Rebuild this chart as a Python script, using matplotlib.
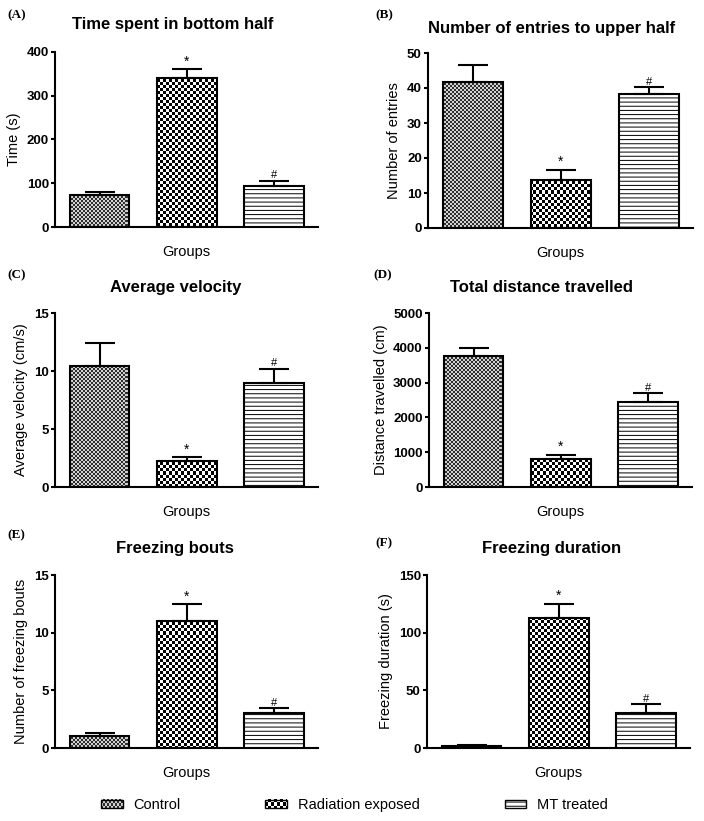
import matplotlib.pyplot as plt
import numpy as np
from matplotlib.patches import Rectangle
from matplotlib.legend_handler import HandlerBase
from matplotlib.image import BboxImage
from matplotlib.transforms import Bbox, TransformedBbox

plt.rcParams['font.family'] = ['Liberation Sans', 'DejaVu Sans']
plt.rcParams['hatch.linewidth'] = 0.7

# data (mean, upper error)
groups = ['Control', 'Radiation exposed', 'MT treated']
sig_marks = ['', '*', '#']

time_bottom = [73, 340, 93]
time_bottom_err = [7, 20, 12]
entries_upper = [41.6, 13.8, 38.3]
entries_upper_err = [4.9, 2.9, 1.9]
avg_velocity = [10.45, 2.25, 8.93]
avg_velocity_err = [2.0, 0.3, 1.24]
distance = [3750, 806, 2447]
distance_err = [235, 115, 240]
freeze_bouts = [1.04, 11.05, 3.05]
freeze_bouts_err = [0.29, 1.42, 0.38]
freeze_dur = [1.7, 112.5, 30.5]
freeze_dur_err = [1.0, 12.5, 7.3]

titles = ['Time spent in bottom half', 'Number of entries to upper half',
          'Average velocity', 'Total distance travelled',
          'Freezing bouts', 'Freezing duration']
letters = ['(A)', '(B)', '(C)', '(D)', '(E)', '(F)']
ylabels = ['Time (s)', 'Number of entries', 'Average velocity (cm/s)',
           'Distance travelled (cm)', 'Number of freezing bouts',
           'Freezing duration (s)']
yticks = [[0, 100, 200, 300, 400], [0, 10, 20, 30, 40, 50], [0, 5, 10, 15],
          [0, 1000, 2000, 3000, 4000, 5000], [0, 5, 10, 15], [0, 50, 100, 150]]
values = [time_bottom, entries_upper, avg_velocity, distance, freeze_bouts, freeze_dur]
errors = [time_bottom_err, entries_upper_err, avg_velocity_err, distance_err,
          freeze_bouts_err, freeze_dur_err]

W, H = 704, 821
fig = plt.figure(figsize=(W / 100, H / 100), dpi=100)

# axes boxes in pixels: left, top, right, bottom
boxes = [(55, 52, 318, 227), (428, 53, 693, 228),
         (55, 313, 318, 487), (429, 313, 692, 487),
         (55, 575, 318, 748), (427, 575, 690, 748)]
title_pos = [(173, 25), (552, 28), (176, 287), (542, 287), (175, 548), (552, 548)]
letter_pos = [(7, 15), (375, 15), (7, 275), (373, 275), (7, 535), (375, 543)]


def checker(h, w, cell, dark, light):
    yy, xx = np.mgrid[0:h, 0:w]
    m = ((yy // cell + xx // cell) % 2).astype(bool)
    d = np.array(dark, float)
    l = np.array(light, float)
    return np.where(m[..., None], d, l)


def control_tex(h, w):
    return checker(h, w, 2, (0.18, 0.18, 0.18), (0.82, 0.82, 0.82))


def radiation_tex(h, w):
    return checker(h, w, 3, (0, 0, 0), (1, 1, 1))


tex_funcs = [control_tex, radiation_tex, None]
mark_sizes = [10, 10, 8]
x = np.arange(3)
xlim = (-0.515, 2.505)
legend_bars = None

for k in range(6):
    l, t, r, b = boxes[k]
    ax = fig.add_axes([l / W, 1 - b / H, (r - l) / W, (b - t) / H])
    ylim = (yticks[k][0], yticks[k][-1])
    bars = ax.bar(x, values[k], width=0.68, facecolor='none', edgecolor='black',
                  linewidth=1.5, zorder=3)
    for i, patch in enumerate(bars):
        if tex_funcs[i] is not None:
            img = tex_funcs[i](b - t, r - l)
            im = ax.imshow(img, extent=(xlim[0], xlim[1], ylim[0], ylim[1]),
                           aspect='auto', interpolation='nearest', zorder=2)
            im.set_clip_path(patch)
        else:
            patch.set_facecolor('white')
            patch.set_hatch('----')
    ax.errorbar(x, values[k], yerr=[np.zeros(3), errors[k]], fmt='none',
                ecolor='black', elinewidth=1.5, capsize=10.5, capthick=1.5, zorder=4)
    for i in range(3):
        if sig_marks[i]:
            ax.annotate(sig_marks[i], (x[i], values[k][i] + errors[k][i]),
                        xytext=(0, 0.5), textcoords='offset points',
                        ha='center', va='bottom', fontsize=mark_sizes[i])
    ax.set_xlim(*xlim)
    ax.set_ylim(*ylim)
    ax.set_yticks(yticks[k])
    ax.set_xticks([])
    for s in ['top', 'right']:
        ax.spines[s].set_visible(False)
    for s in ['left', 'bottom']:
        ax.spines[s].set_linewidth(1.5)
    ax.tick_params(axis='y', length=3, width=1.5, labelsize=9.5, pad=1.5)
    for lab in ax.get_yticklabels():
        lab.set_fontweight('bold')
    ax.set_ylabel(ylabels[k], fontsize=10.5, labelpad=4)
    ax.set_xlabel('Groups', fontsize=10.5, labelpad=13)
    tx, ty = title_pos[k]
    fig.text(tx / W, 1 - ty / H, titles[k], ha='center', va='center',
             fontsize=12, fontweight='bold')
    lx, ly = letter_pos[k]
    fig.text(lx / W, 1 - ly / H, letters[k], ha='left', va='center',
             fontsize=9.5, fontweight='bold', family='Liberation Serif')
    if k == 0:
        legend_bars = list(bars)


class TextureHandler(HandlerBase):
    def __init__(self, tex=None, hatch=None):
        super().__init__()
        self.tex = tex
        self.hatch = hatch

    def create_artists(self, legend, orig_handle, xdescent, ydescent,
                       width, height, fontsize, trans):
        hh = height * 0.8
        y0 = -ydescent + (height - hh) / 2
        rect = Rectangle((-xdescent, y0), width, hh, facecolor='white',
                         edgecolor='black', linewidth=1, hatch=self.hatch,
                         transform=trans)
        if self.tex is None:
            return [rect]
        bb = TransformedBbox(Bbox.from_bounds(-xdescent, y0, width, hh), trans)
        im = BboxImage(bb, interpolation='nearest')
        im.set_data(self.tex(8, 22))
        rect.set_facecolor('none')
        return [im, rect]


handler_map = {legend_bars[0]: TextureHandler(control_tex),
               legend_bars[1]: TextureHandler(radiation_tex),
               legend_bars[2]: TextureHandler(hatch='----')}
fig.legend(legend_bars, groups, handler_map=handler_map, loc='center',
           bbox_to_anchor=(354.5 / W, 1 - 805 / H), ncol=3, frameon=False,
           fontsize=10.5, handlelength=1.5, handletextpad=0.75,
           columnspacing=5.8)

fig.savefig('out.png', dpi=100)
